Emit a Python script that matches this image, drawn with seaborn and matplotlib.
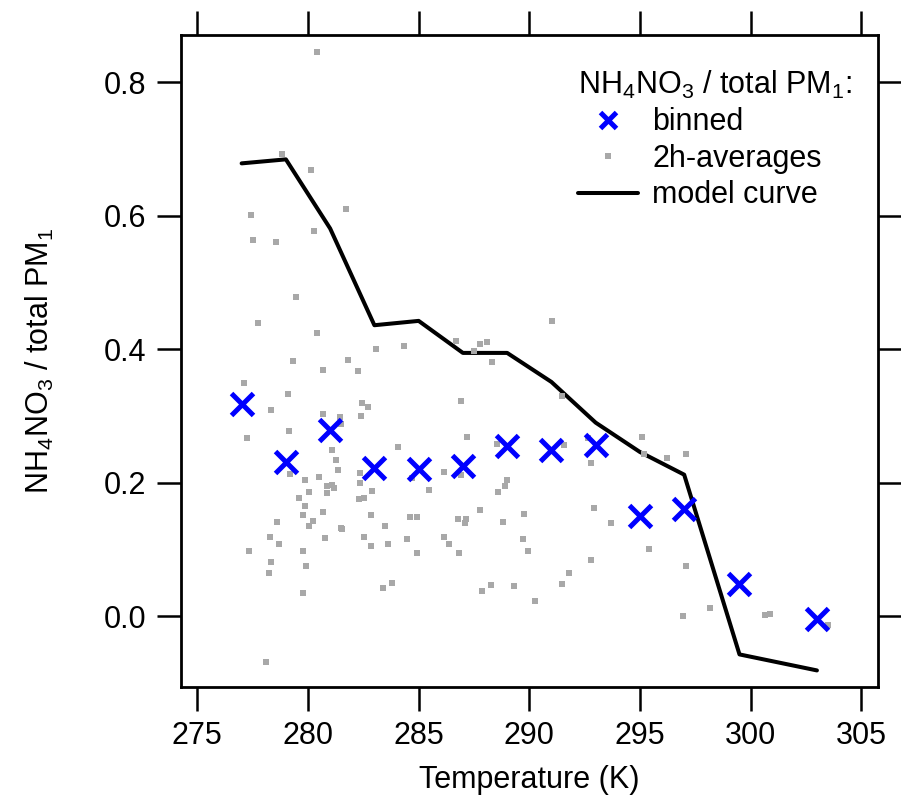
import matplotlib
matplotlib.use("Agg")
import matplotlib.pyplot as plt
from matplotlib.lines import Line2D
import seaborn as sns
import pandas as pd

# ---- data ----
bin_temp = [277, 279, 281, 283, 285, 287, 289, 291, 293, 295, 297, 299.5, 303]
bin_ratio = [0.3175, 0.2305, 0.2785, 0.222, 0.2205, 0.2245, 0.2556, 0.2485, 0.256,
             0.150, 0.161, 0.0486, -0.004]

model_temp = [277, 279, 281, 283, 285, 287, 289, 291, 293, 295, 297, 299.5, 303]
model_ratio = [0.6786, 0.6846, 0.581, 0.436, 0.4425, 0.3945, 0.3945, 0.351, 0.290,
               0.246, 0.212, -0.0574, -0.0814]

avg_temp = [280.42, 278.84, 280.12, 277.44, 281.73, 280.29, 277.52, 278.56, 279.47, 277.73,
            280.41, 283.08, 284.34, 279.32, 281.81, 280.69, 282.25, 277.11, 279.10, 282.43,
            282.71, 278.34, 280.68, 282.38, 281.43, 281.48, 279.14, 277.25, 284.08, 281.10,
            281.28, 281.34, 279.20, 282.37, 279.85, 280.51, 284.70, 282.37, 280.87, 281.07,
            281.19, 282.91, 280.05, 280.87, 279.60, 282.32, 282.55, 279.85, 280.68, 279.78,
            282.86, 284.61, 284.94, 278.61, 280.24, 280.05, 283.50, 281.48, 281.55, 278.29,
            278.69, 280.78, 282.55, 282.84, 283.62, 284.48, 277.32, 279.78, 284.93, 278.32,
            279.91, 278.24, 283.38, 283.81, 279.78, 278.10, 291.04, 286.70, 287.76, 288.10,
            287.49, 288.30, 291.47, 286.92, 287.17, 288.53, 291.58, 292.65, 295.11, 295.17,
            292.80, 286.15, 286.93, 285.47, 288.98, 288.90, 288.57, 286.78, 287.14, 287.11,
            287.77, 288.81, 289.78, 292.94, 293.71, 286.15, 286.36, 286.83, 289.70, 289.94,
            292.78, 291.78, 291.49, 287.85, 288.26, 289.32, 290.26, 295.40, 296.22, 297.10,
            297.07, 298.18, 296.95, 300.67, 300.89, 303.49]
avg_ratio = [0.845, 0.6925, 0.6685, 0.601, 0.6105, 0.577, 0.563, 0.5605, 0.4785, 0.4395,
             0.424, 0.400, 0.4045, 0.383, 0.3835, 0.3685, 0.3675, 0.349, 0.3336, 0.3195,
             0.313, 0.3085, 0.3036, 0.3006, 0.2985, 0.2886, 0.278, 0.267, 0.253, 0.2485,
             0.234, 0.2185, 0.2125, 0.2145, 0.2035, 0.208, 0.2065, 0.1995, 0.195, 0.197,
             0.192, 0.1875, 0.1855, 0.184, 0.177, 0.1755, 0.1765, 0.1656, 0.1555, 0.151,
             0.1515, 0.148, 0.148, 0.1405, 0.143, 0.135, 0.135, 0.1315, 0.131, 0.118,
             0.108, 0.1165, 0.1185, 0.1056, 0.108, 0.116, 0.098, 0.098, 0.095, 0.0816,
             0.075, 0.0645, 0.0426, 0.0495, 0.035, -0.069, 0.4425, 0.4125, 0.408, 0.4116,
             0.3975, 0.3816, 0.3295, 0.323, 0.2685, 0.2575, 0.257, 0.2665, 0.2685, 0.2436,
             0.2295, 0.2166, 0.2115, 0.1885, 0.2046, 0.195, 0.186, 0.1455, 0.1455, 0.140,
             0.1585, 0.1416, 0.1525, 0.1615, 0.140, 0.118, 0.108, 0.094, 0.116, 0.0975,
             0.0835, 0.0645, 0.0475, 0.037, 0.046, 0.0445, 0.0225, 0.101, 0.2365, 0.2425,
             0.0756, 0.0126, 0.0, 0.001, 0.0036, -0.014]

x_ticks = [275, 280, 285, 290, 295, 300, 305]
y_ticks = [0.0, 0.2, 0.4, 0.6, 0.8]

BLUE = "#0000ff"
GRAY = "#a8a8a8"

# ---- style ----
sns.set_theme(style="ticks")
plt.rcParams["font.family"] = ["Liberation Sans", "DejaVu Sans"]
plt.rcParams["mathtext.fontset"] = "custom"
plt.rcParams["mathtext.rm"] = "Liberation Sans"
plt.rcParams["mathtext.it"] = "Liberation Sans:italic"
plt.rcParams["mathtext.bf"] = "Liberation Sans:bold"
plt.rcParams["text.color"] = "black"
plt.rcParams["axes.labelcolor"] = "black"
plt.rcParams["xtick.color"] = "black"
plt.rcParams["ytick.color"] = "black"
plt.rcParams["legend.labelcolor"] = "black"

df_bin = pd.DataFrame({"T": bin_temp, "r": bin_ratio})
df_model = pd.DataFrame({"T": model_temp, "r": model_ratio})
df_avg = pd.DataFrame({"T": avg_temp, "r": avg_ratio})

fig = plt.figure(figsize=(9.01, 8.01), dpi=100)
ax = fig.add_axes([181 / 901, 1 - 686.5 / 801, (878 - 181) / 901, (686.5 - 35) / 801])

sns.lineplot(data=df_model, x="T", y="r", sort=False, estimator=None, color="black",
             linewidth=2.9, ax=ax, zorder=2)
sns.scatterplot(data=df_avg, x="T", y="r", marker="s", s=14, color=GRAY, linewidth=0,
                ax=ax, zorder=3)
sns.scatterplot(data=df_bin, x="T", y="r", marker="x", s=250, color=BLUE, linewidth=3.6,
                ax=ax, zorder=4)

ax.set_xlim(274.26, 305.76)
ax.set_ylim(-0.1055, 0.871)
ax.set_xticks(x_ticks)
ax.set_yticks(y_ticks)
ax.set_xticklabels([str(t) for t in x_ticks])
ax.set_yticklabels([f"{t:.1f}" for t in y_ticks])

for s in ax.spines.values():
    s.set_linewidth(2.0)
    s.set_color("black")
ax.tick_params(axis="both", which="major", direction="out", length=17, width=1.8,
               labelsize=22, pad=8, colors="black",
               top=True, right=True, labeltop=False, labelright=False)

ax.set_xlabel("Temperature (K)", fontsize=22, labelpad=10, color="black")
ax.set_ylabel(r"NH$_4$NO$_3$ / total PM$_1$", fontsize=22, labelpad=34, color="black")

handles = [
    Line2D([], [], marker="x", linestyle="", color=BLUE, markersize=12, markeredgewidth=3.6),
    Line2D([], [], marker="s", linestyle="", color=GRAY, markersize=5, markeredgewidth=0),
    Line2D([], [], color="black", linewidth=2.9),
]
leg = ax.legend(handles, ["binned", "2h-averages", "model curve"],
                title=r"NH$_4$NO$_3$ / total PM$_1$:", title_fontsize=22, fontsize=22,
                loc="upper right", bbox_to_anchor=(0.963, 0.948), frameon=False,
                borderpad=0, borderaxespad=0, handlelength=1.96, handletextpad=0.46,
                labelspacing=0.21, alignment="left")
leg.get_title().set_color("black")
for t in leg.get_texts():
    t.set_color("black")

fig.savefig("out.png", dpi=100)
